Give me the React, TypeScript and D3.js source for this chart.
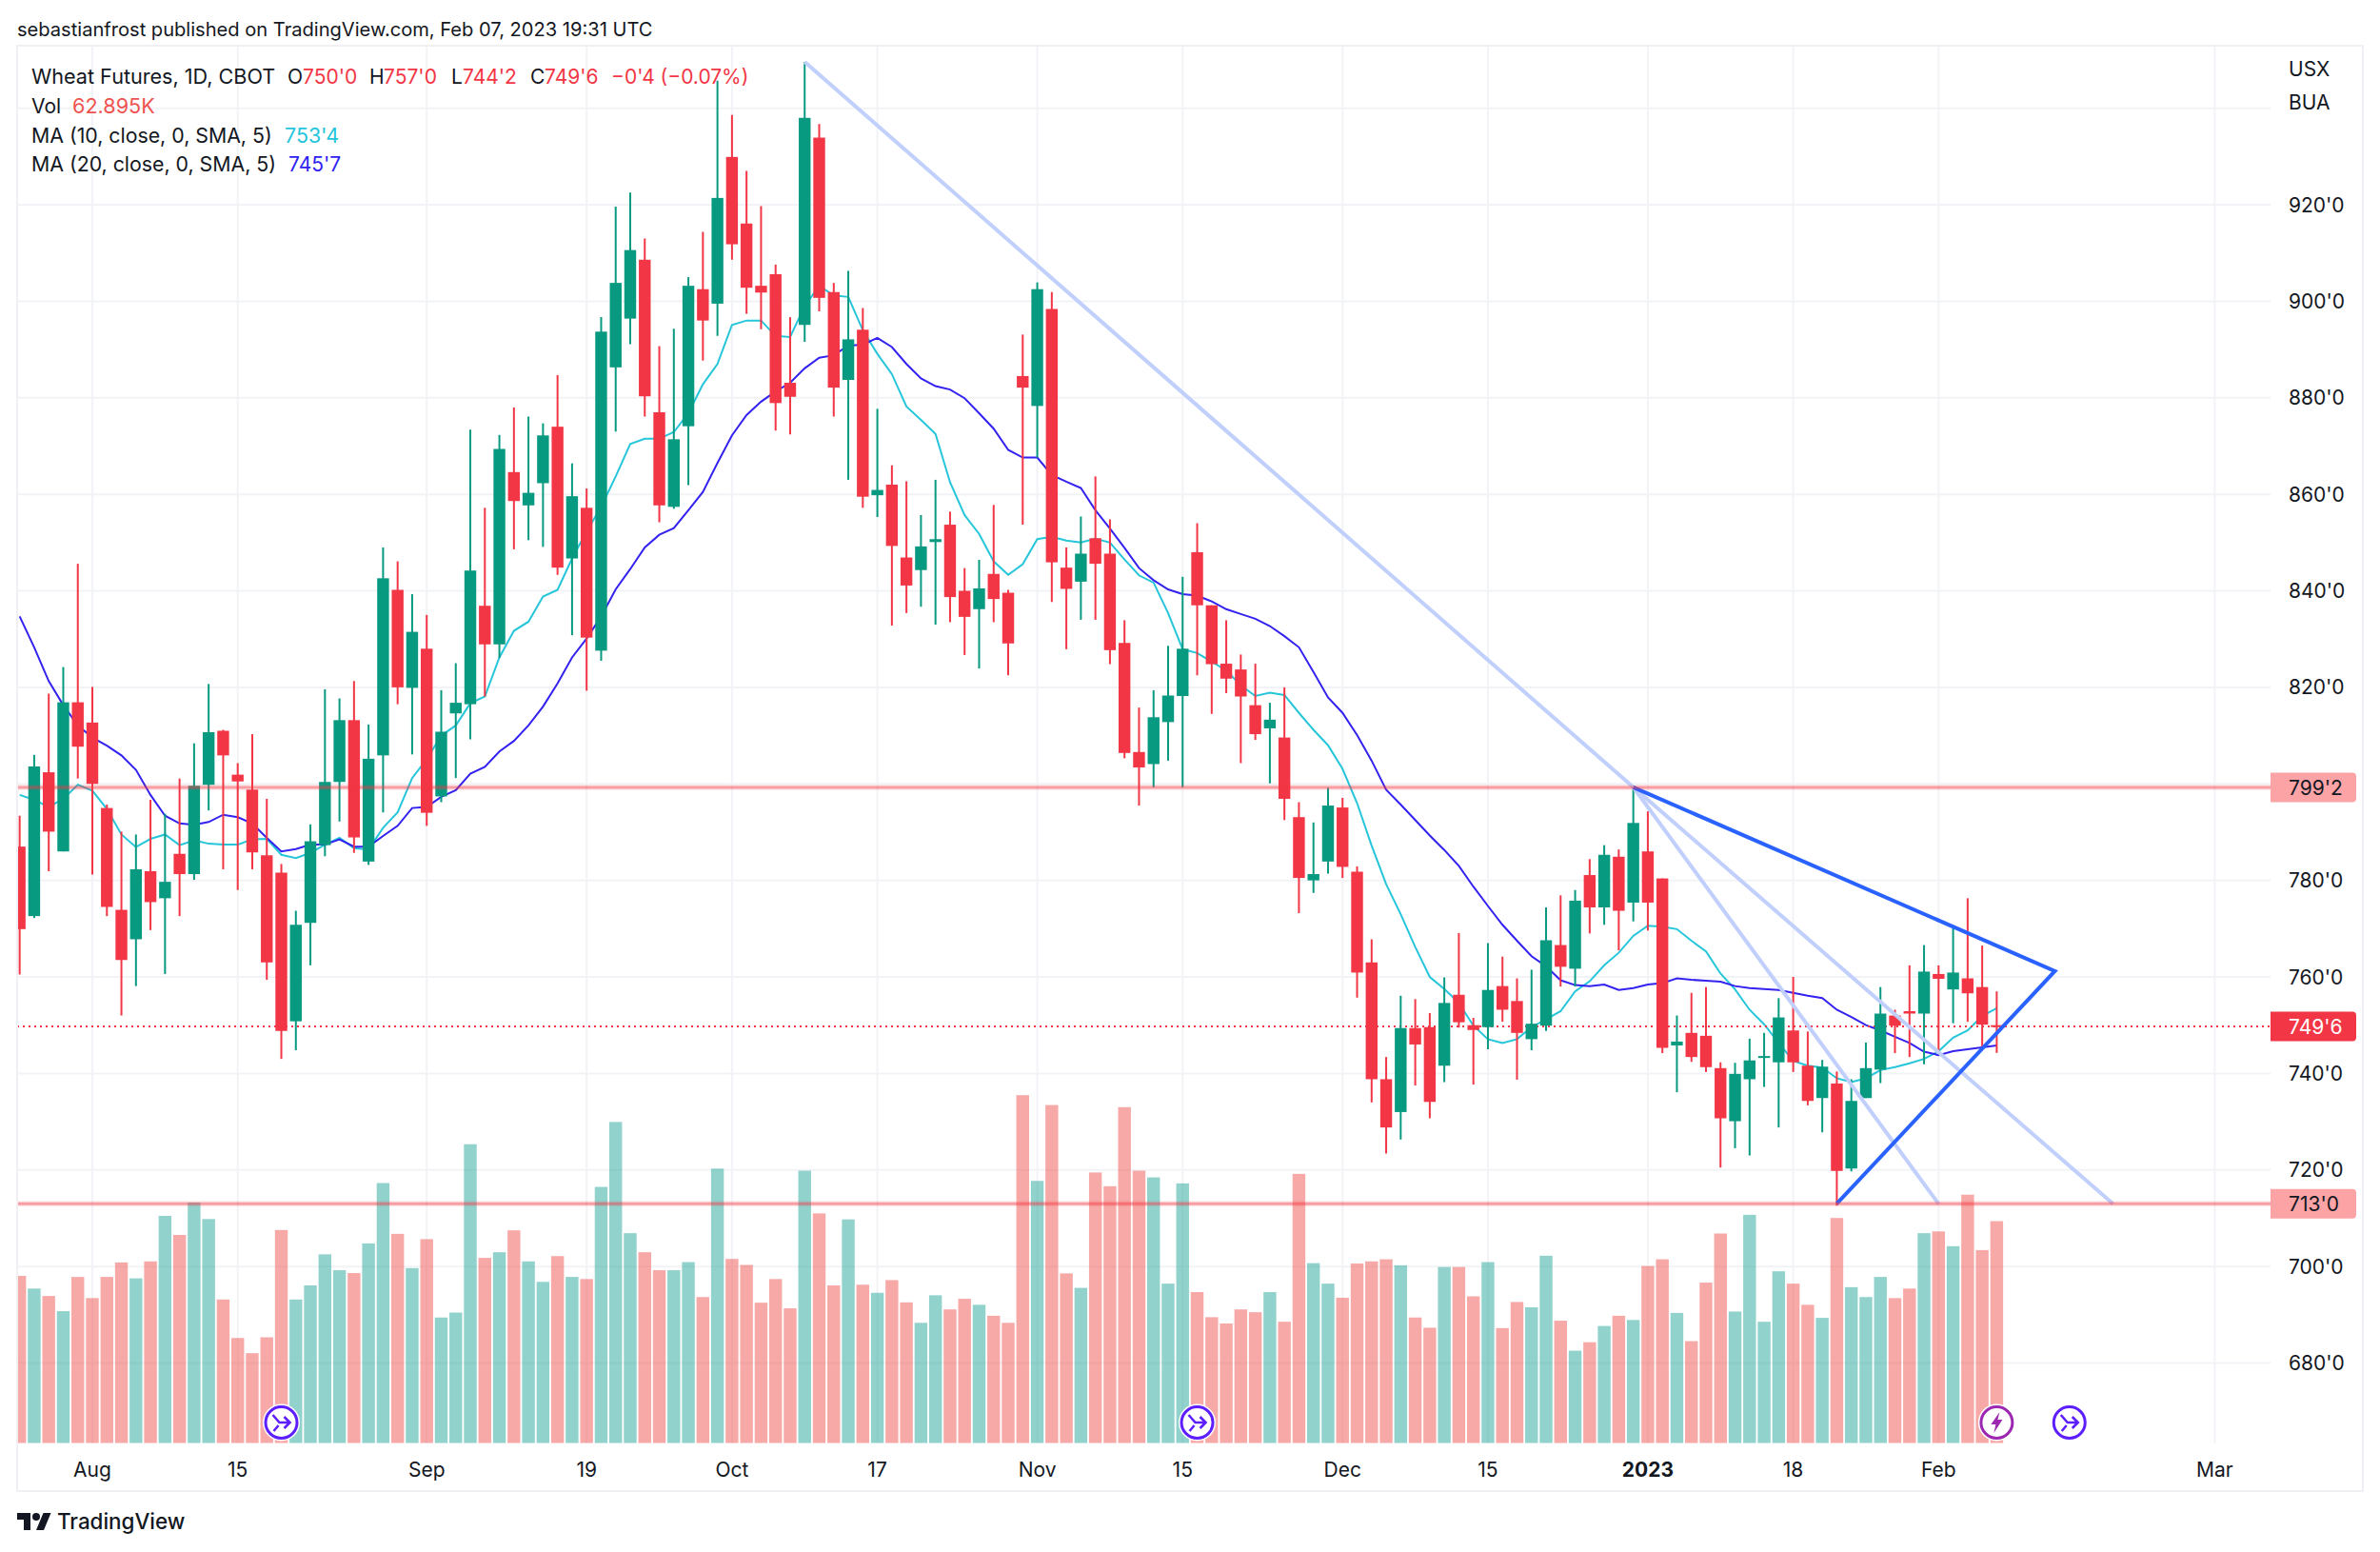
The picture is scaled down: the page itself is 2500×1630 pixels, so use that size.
import { useEffect, useRef } from "react";
import * as d3 from "d3";

// OHLC, one value per daily bar
const opens = [
    787, 772.6, 802.4, 786, 816.9, 812.7, 795, 773.9, 767.8, 781.9,
    776.3, 785.5, 781.3, 799.8, 811, 801.9, 798.8, 785.2, 781.6, 750.8,
    771.2, 787.3, 800.4, 813.2, 783.9, 805.9, 840.2, 819.9, 828, 797.4,
    814.6, 816.5, 836.9, 828.9, 864.6, 857.7, 862.3, 874, 846.7, 857.2,
    827.6, 886.3, 896.4, 908.6, 877, 857.4, 874.1, 902.5, 899.5, 929.9,
    916.1, 903.2, 905.6, 883.1, 895.1, 933.9, 901.9, 883.7, 894.1, 859.8,
    862, 846.9, 844.3, 850.1, 853.7, 840, 836.2, 843.5, 839.6, 884.5,
    878.3, 898.4, 844.8, 841.9, 850.9, 847.7, 829.2, 806.6, 804.1, 812.8,
    818.2, 848, 837, 824.9, 823.7, 816.3, 811.5, 809.6, 793.1, 780,
    783.9, 795.1, 781.8, 763, 738.8, 732, 749.4, 749.6, 741.6, 756.3,
    750, 749.6, 758.1, 755, 747.1, 749.9, 766.6, 761.7, 781.1, 774.4,
    784.9, 775.4, 786, 780.4, 745.8, 748.4, 747.8, 741.1, 730.1, 738.8,
    743.3, 742.3, 748.9, 741.6, 734.9, 737.9, 720.3, 734.9, 740.8, 752,
    752.9, 752.4, 760.6, 757.4, 759.7, 757.9, 750,
];
const highs = [
    793.4, 806, 818.7, 824.2, 845.6, 820.1, 795.7, 790.1, 789.5, 796.7,
    793.8, 801.1, 808.4, 820.7, 811.2, 804.3, 810.3, 796.9, 783.4, 773.7,
    791.6, 819.6, 817.7, 821.3, 812.3, 849, 846.1, 839.3, 835, 819.4,
    825, 873.4, 857.2, 872.3, 878, 876.1, 874.7, 884.7, 866.4, 861.2,
    896.7, 919.6, 922.5, 913, 890.7, 894.3, 905, 914.4, 945.7, 938.6,
    927, 919.7, 907.6, 896.7, 949.6, 936.7, 903.8, 906.3, 898.6, 877.7,
    866, 862.7, 855.7, 863, 856.4, 844.7, 846.4, 857.8, 840.2, 893.1,
    903.9, 901.9, 849, 855.4, 863.7, 854.8, 833.9, 815.8, 819.4, 828.6,
    842.9, 854, 837, 833.9, 826.8, 824.9, 816.8, 820, 796.2, 792,
    799.2, 797.1, 782.9, 767.8, 743.4, 756.1, 755.4, 752.5, 759.9, 769.1,
    751.5, 767, 764.2, 759.7, 761.5, 774.4, 776.9, 778, 784.4, 787.3,
    786.4, 799.4, 794.3, 780.4, 752, 756.7, 757.9, 742.3, 742.2, 747.2,
    748.4, 755.6, 760, 748.7, 742.8, 740.4, 738.8, 746.4, 757.9, 753.2,
    762.4, 766.6, 762.4, 770.5, 776.3, 766.5, 757,
];
const lows = [
    760.5, 772.2, 781.9, 786, 801.1, 781.2, 772.6, 752, 758.1, 769.7,
    760.6, 772.6, 780.1, 794.5, 782.3, 778, 782.3, 759.4, 743, 744.8,
    762.4, 785, 792.2, 785.7, 783.2, 794.1, 816.5, 806.1, 791.3, 796.2,
    801.2, 809.2, 818.1, 826.1, 848.6, 850.5, 849.1, 843.3, 830.8, 819.3,
    825.5, 873, 891.1, 876.1, 854.2, 857, 861.9, 887.7, 892.8, 908.6,
    897.4, 894.2, 873.2, 872.4, 891.6, 897.9, 876.1, 863, 857.2, 855.3,
    832.8, 835.4, 836.7, 833, 833.5, 826.7, 823.9, 833.5, 822.5, 853.7,
    867.6, 837.7, 827.9, 834, 834, 824.8, 805.3, 795.5, 799.3, 804.8,
    799.3, 822.5, 814.5, 818.8, 804.3, 809.1, 800.1, 792.5, 773.2, 777.4,
    781.4, 780.5, 755.7, 734, 723.4, 726.3, 737.5, 730.7, 738.2, 749.5,
    737.7, 745, 750.7, 738.7, 744.8, 748.8, 758, 758, 769, 770.8,
    765.5, 771.5, 769.6, 744.2, 736.1, 742.4, 740.3, 720.5, 724.5, 723,
    737.2, 728.8, 740.3, 733.4, 727.8, 712.6, 719.7, 734.9, 738, 744.2,
    743.4, 741.9, 744.6, 750.4, 750.7, 745.4, 744.25,
];
const closes = [
    769.9, 803.6, 790.1, 816.9, 807.7, 800, 774.5, 763.5, 782.3, 775.5,
    779.7, 781.3, 799.6, 810.7, 805.9, 800.5, 785.8, 763, 748.8, 770.8,
    788.1, 800.4, 813.2, 788.9, 805.2, 842.6, 820, 831.5, 794, 810.8,
    816.8, 844.2, 828.9, 869.4, 858.6, 860.3, 872.2, 844.8, 859.6, 830.3,
    893.7, 903.8, 910.6, 880.3, 857.7, 871.4, 903.2, 896, 921.4, 911.8,
    902.8, 901.8, 878.9, 880.2, 938, 900.7, 882.1, 892.1, 859.5, 860.9,
    849.3, 841.1, 849.2, 850.7, 838.7, 834.6, 840.5, 838.3, 829.1, 882.1,
    902.5, 845.9, 840.4, 847.7, 845.6, 827.7, 806.4, 803.4, 813.8, 818.3,
    828, 837, 824.8, 821.8, 818.1, 810.3, 813.3, 796.9, 780.5, 781.3,
    795.5, 782.8, 760.9, 738.8, 728.8, 749.4, 746, 734.1, 754.6, 750.6,
    749, 757.3, 753.2, 748.4, 750.3, 767.6, 762.1, 775.8, 774.4, 785.3,
    773.7, 791.9, 775.4, 745.3, 746.6, 743.4, 741.3, 730.7, 739.9, 742.7,
    743.6, 751.6, 742.3, 734.3, 741.4, 719.8, 734.3, 741.1, 752.4, 749.9,
    752.4, 761.1, 759.6, 760.9, 756.6, 750.1, 749.75,
];
// Volume in thousands
const volumes = [
    47.4, 43.8, 41.7, 37.4, 47.1, 41.1, 47.1, 51.2, 46.7, 51.5,
    64.4, 59, 68.2, 63.5, 40.7, 29.8, 25.5, 30, 60.4, 40.7,
    44.7, 53.5, 49, 48.2, 56.6, 73.7, 59.3, 49.6, 57.8, 35.6,
    37, 84.7, 52.5, 54.1, 60.3, 51.5, 45.7, 53, 47.1, 46.5,
    72.6, 91, 59.5, 54.1, 49, 49, 51.3, 41.4, 77.8, 52.2,
    50.5, 39.8, 46.5, 38.2, 77.2, 65.1, 44.7, 63.4, 44.9, 42.6,
    46.2, 39.9, 34.1, 41.9, 37.9, 40.9, 39.2, 36.1, 34.1, 98.6,
    74.3, 95.8, 48.1, 44, 76.7, 72.8, 95.2, 77.2, 75.3, 45.2,
    73.6, 42.8, 35.7, 33.9, 37.9, 37.1, 42.8, 34.4, 76.3, 51,
    45.2, 41.2, 50.9, 51.5, 52.1, 50.4, 35.6, 32.7, 49.9, 49.9,
    41.6, 51.3, 32.6, 40, 38.5, 53.1, 34.7, 26.2, 28.6, 33.2,
    36.1, 34.9, 50.2, 52.1, 36.9, 28.9, 45.5, 59.4, 37.3, 64.7,
    34.4, 48.7, 45.2, 39.2, 35.5, 63.8, 44.2, 41.4, 47.1, 41.1,
    43.8, 59.5, 60, 55.8, 70.4, 54.7, 62.9,
];
const ma10 = [
    797.7, 796.7, 795.2, 796.9, 799.8, 798.6, 794.8, 789.5, 786.9, 788.6,
    789.5, 787.3, 788.3, 787.6, 787.4, 787.4, 788.5, 788.6, 785.3, 784.6,
    785.7, 787.4, 788.8, 786.7, 786.4, 790.9, 794.1, 801.2, 805.1, 810,
    812.1, 816.7, 818.1, 826.2, 831.7, 833.6, 838.8, 840.2, 846.7, 852.3,
    857.4, 863.7, 870.4, 871.5, 871.5, 872.9, 876.8, 882.8, 887, 895.1,
    896, 896, 892.8, 892.6, 899, 903.2, 901.2, 900.9, 894, 889.1,
    884.9, 878.2, 875.4, 872.5, 862.5, 855.7, 851.8, 846.1, 843.3, 845.5,
    850.7, 851.2, 850.4, 850, 850.8, 850, 846.5, 843.2, 841.7, 835.4,
    827.9, 827.1, 825.3, 823.5, 820.4, 818.2, 818.9, 818.4, 814.7, 811.2,
    808, 803.1, 796, 787.2, 779.2, 773, 766.2, 760, 757.5, 754.6,
    749.9, 747.1, 746.3, 747.1, 749.6, 751.2, 752.9, 757, 759.1, 762.4,
    765, 768.5, 770.6, 770.4, 769.9, 767.5, 765.3, 760.7, 757.4, 753.2,
    750.2, 746.3, 742.6, 741.6, 741.2, 739, 738.2, 739, 740.7, 741.3,
    742.1, 743, 744.6, 747.4, 748.9, 751.9, 753.5,
];
const ma20 = [
    834.7, 828.3, 821.3, 816.3, 812.1, 809.6, 807.9, 805.9, 802.9, 797.7,
    793.4, 791.8, 791.5, 792.1, 793.6, 793.1, 791.8, 788.8, 786, 786.5,
    787.4, 787.4, 788.5, 787, 787, 789.2, 791.3, 795, 795.2, 797.3,
    798.7, 802.1, 803.5, 806.7, 808.9, 812.1, 816, 820.8, 826.2, 830.1,
    834.7, 840.3, 844.5, 849, 851.6, 853, 856.7, 860.5, 866.5, 872.2,
    876.4, 879.2, 881.3, 883.1, 886.1, 888.3, 888.8, 890.8, 891, 892.4,
    890.5, 887, 884, 882.4, 881.7, 879.9, 876.8, 873.6, 869.2, 867.6,
    867.6, 864, 862.6, 861.3, 856.7, 852.9, 848.9, 844.7, 842.2, 840.3,
    839.3, 839, 837.8, 836.2, 835.2, 834.2, 832.7, 830.6, 828.3, 823.2,
    817.9, 814.7, 810.1, 804.8, 798.8, 795.7, 792.5, 789.3, 786.3, 783,
    778.7, 774.7, 770.8, 767.5, 764.3, 762.2, 759.3, 758.3, 758.1, 758.4,
    757.3, 757.7, 758.4, 758.7, 759.7, 759.4, 759.2, 759, 758.1, 757.7,
    757.5, 757.3, 756.7, 756.1, 755.6, 753.2, 751.7, 750, 748.9, 747.6,
    746.3, 744.5, 743.8, 744.6, 745, 745.4, 745.8,
];

const priceTicks = [ 680, 700, 720, 740, 760, 780, 800, 820, 840, 860, 880, 900, 920 ];
const gridOnlyTicks = [ 940 ];
const timeTicks = [
    { bar: 5, label: "Aug" }, { bar: 15, label: "15" }, { bar: 28, label: "Sep" }, { bar: 39, label: "19" },
    { bar: 49, label: "Oct" }, { bar: 59, label: "17" }, { bar: 70, label: "Nov" }, { bar: 80, label: "15" },
    { bar: 91, label: "Dec" }, { bar: 101, label: "15" }, { bar: 112, label: "2023", bold: true },
    { bar: 122, label: "18" }, { bar: 132, label: "Feb" }, { bar: 151, label: "Mar" },
];

// [bar, price] anchors of the drawings
const fanStart = [ 54, 949.6 ];
const paleApex = [ 111, 799.3 ];
const paleEnds = [ [ 132, 713 ], [ 144, 713 ] ];
const wedge = [ [ 111, 799.3 ], [ 140, 761.2 ], [ 125, 713 ] ];
const levels = [ { price: 799.25, label: "799'2" }, { price: 713, label: "713'0" } ];
const lastPrice = { price: 749.75, label: "749'6" };
const mergeEvents = [ 18, 81, 141 ];
const boltEvents = [ 136 ];

const FONT = "Inter, 'Noto Sans', sans-serif";
const UP = "#089981";
const DOWN = "#F23645";
const TEXT = "#131722";

const legendRows = [
    { y: 80, parts: [
        { x: 33, t: "Wheat Futures, 1D, CBOT", c: TEXT, s: 21.6 },
        { x: 302, t: "O", c: TEXT }, { x: 318, t: "750'0", c: DOWN },
        { x: 388, t: "H", c: TEXT }, { x: 403, t: "757'0", c: DOWN },
        { x: 474, t: "L", c: TEXT }, { x: 486, t: "744'2", c: DOWN },
        { x: 557, t: "C", c: TEXT }, { x: 572, t: "749'6", c: DOWN },
        { x: 642, t: "−0'4 (−0.07%)", c: DOWN },
    ] },
    { y: 111, parts: [ { x: 33, t: "Vol", c: TEXT }, { x: 76, t: "62.895K", c: "#EF5350", s: 21.6 } ] },
    { y: 142, parts: [ { x: 33, t: "MA (10, close, 0, SMA, 5)", c: TEXT, s: 21.3 }, { x: 299, t: "753'4", c: "#22C5DB", s: 21.4 } ] },
    { y: 172.5, parts: [ { x: 33, t: "MA (20, close, 0, SMA, 5)", c: TEXT, s: 21.3 }, { x: 303, t: "745'7", c: "#2E22F2" } ] },
];

export default function App ()
{
    const svgRef = useRef<SVGSVGElement>( null );

    useEffect( () =>
    {
        if ( !svgRef.current ) return;
        const svg = d3.select( svgRef.current );
        svg.selectAll( "*" ).remove();

        const plotLeft = 18, plotRight = 2385, panelRight = 2482, panelTop = 48, panelBottom = 1566, baseline = 1515.7;

        const x = d3.scaleLinear().domain( [ 0, 136 ] ).range( [ 20.65, 2097.4 ] );
        const y = d3.scaleLinear().domain( [ 680, 920 ] ).range( [ 1431.5, 215 ] );
        const yVol = d3.scaleLinear().domain( [ 0, 100 ] ).range( [ baseline, baseline - 370.7 ] );

        const bars = d3.range( closes.length ).map( ( i ) => ( {
            i, o: opens[ i ], h: highs[ i ], l: lows[ i ], c: closes[ i ], v: volumes[ i ],
            up: closes[ i ] >= opens[ i ],
        } ) );

        svg.append( "rect" ).attr( "width", 2500 ).attr( "height", 1630 ).attr( "fill", "#fff" );

        svg.append( "defs" ).append( "clipPath" ).attr( "id", "plot" ).append( "rect" )
            .attr( "x", plotLeft ).attr( "y", panelTop ).attr( "width", plotRight - plotLeft ).attr( "height", baseline - panelTop );

        // Grid
        const grid = svg.append( "g" ).attr( "stroke", "#F2F3F6" ).attr( "stroke-width", 2 );
        grid.selectAll( "line.h" ).data( [ ...priceTicks, ...gridOnlyTicks ] ).join( "line" ).attr( "class", "h" )
            .attr( "x1", plotLeft ).attr( "x2", plotRight ).attr( "y1", ( d ) => y( d ) ).attr( "y2", ( d ) => y( d ) );
        grid.selectAll( "line.v" ).data( timeTicks ).join( "line" ).attr( "class", "v" )
            .attr( "x1", ( d ) => x( d.bar ) ).attr( "x2", ( d ) => x( d.bar ) ).attr( "y1", panelTop ).attr( "y2", baseline );

        const plot = svg.append( "g" ).attr( "clip-path", "url(#plot)" );

        // Volume
        plot.append( "g" ).selectAll( "rect" ).data( bars ).join( "rect" )
            .attr( "x", ( d ) => x( d.i ) - 6.7 ).attr( "width", 13.4 )
            .attr( "y", ( d ) => yVol( d.v ) ).attr( "height", ( d ) => baseline - yVol( d.v ) )
            .attr( "fill", ( d ) => d.up ? "#26A69A" : "#EF5350" ).attr( "fill-opacity", 0.5 );

        // Moving averages
        const line = d3.line<number>().x( ( _, i ) => x( i ) ).y( ( d ) => y( d ) );
        plot.append( "path" ).attr( "d", line( ma10 ) ).attr( "fill", "none" ).attr( "stroke", "#26C6DA" ).attr( "stroke-width", 2 );
        plot.append( "path" ).attr( "d", line( ma20 ) ).attr( "fill", "none" ).attr( "stroke", "#3322F0" ).attr( "stroke-width", 2 );

        // Last price
        plot.append( "line" ).attr( "x1", plotLeft ).attr( "x2", plotRight )
            .attr( "y1", y( lastPrice.price ) ).attr( "y2", y( lastPrice.price ) )
            .attr( "stroke", DOWN ).attr( "stroke-width", 2 ).attr( "stroke-dasharray", "2 4" );

        // Candles
        const candle = plot.append( "g" ).selectAll( "g" ).data( bars ).join( "g" );
        candle.append( "line" )
            .attr( "x1", ( d ) => x( d.i ) ).attr( "x2", ( d ) => x( d.i ) )
            .attr( "y1", ( d ) => y( d.h ) ).attr( "y2", ( d ) => y( d.l ) )
            .attr( "stroke", ( d ) => d.up ? UP : DOWN ).attr( "stroke-width", 2 );
        candle.append( "rect" )
            .attr( "x", ( d ) => x( d.i ) - 6.2 ).attr( "width", 12.4 )
            .attr( "y", ( d ) => y( Math.max( d.o, d.c ) ) )
            .attr( "height", ( d ) => Math.max( 2, y( Math.min( d.o, d.c ) ) - y( Math.max( d.o, d.c ) ) ) )
            .attr( "fill", ( d ) => d.up ? UP : DOWN );

        // Event markers
        const marker = svg.append( "g" );
        const ring = ( i: number, color: string ) =>
        {
            const g = marker.append( "g" ).attr( "transform", `translate(${ x( i ) },1494)` );
            g.append( "circle" ).attr( "r", 19.5 ).attr( "fill", "#fff" );
            g.append( "circle" ).attr( "r", 16.5 ).attr( "fill", "#fff" ).attr( "stroke", color ).attr( "stroke-width", 3 );
            return g;
        };
        mergeEvents.forEach( ( i ) =>
        {
            ring( i, "#5E1FFF" ).append( "path" )
                .attr( "d", "M-9,-8 L-2,0 L9,0 M-8,9 L-3,3 M3,-6 L9,0 L3,6" )
                .attr( "fill", "none" ).attr( "stroke", "#5E1FFF" ).attr( "stroke-width", 2.6 );
        } );
        boltEvents.forEach( ( i ) =>
        {
            ring( i, "#9C27B0" ).append( "path" )
                .attr( "d", "M3,-11 L-6,2 L-1,2 L-3,11 L6,-3 L1,-3 Z" ).attr( "fill", "#9C27B0" );
        } );

        // Drawings
        const pt = ( p: number[] ) => [ x( p[ 0 ] ), y( p[ 1 ] ) ] as [ number, number ];
        const drawings = svg.append( "g" ).attr( "fill", "none" );
        const seg = d3.line();
        drawings.append( "path" ).attr( "d", seg( [ pt( fanStart ), pt( paleApex ) ] ) )
            .attr( "stroke", "#C0CFFB" ).attr( "stroke-width", 4 );
        paleEnds.forEach( ( e ) =>
        {
            drawings.append( "path" ).attr( "d", seg( [ pt( paleApex ), pt( e ) ] ) )
                .attr( "stroke", "#C0CFFB" ).attr( "stroke-width", 4 );
        } );
        drawings.append( "path" ).attr( "d", seg( wedge.map( pt ) ) )
            .attr( "stroke", "#2962FF" ).attr( "stroke-width", 4 ).attr( "stroke-linejoin", "miter" );

        // Horizontal levels
        levels.forEach( ( l ) =>
        {
            svg.append( "line" ).attr( "x1", plotLeft ).attr( "x2", plotRight )
                .attr( "y1", y( l.price ) ).attr( "y2", y( l.price ) )
                .attr( "stroke", DOWN ).attr( "stroke-opacity", 0.12 ).attr( "stroke-width", 6 );
            svg.append( "line" ).attr( "x1", plotLeft ).attr( "x2", plotRight )
                .attr( "y1", y( l.price ) ).attr( "y2", y( l.price ) )
                .attr( "stroke", DOWN ).attr( "stroke-opacity", 0.42 ).attr( "stroke-width", 3 );
        } );

        // Panel border
        svg.append( "rect" ).attr( "x", plotLeft ).attr( "y", panelTop )
            .attr( "width", panelRight - plotLeft ).attr( "height", panelBottom - panelTop )
            .attr( "fill", "none" ).attr( "stroke", "#EFEFF4" ).attr( "stroke-width", 2 );

        const label = ( g: d3.Selection<any, any, any, any>, tx: number, ty: number, t: string, color: string, size = 21, weight = 400 ) =>
            g.append( "text" ).attr( "x", tx ).attr( "y", ty ).attr( "dy", "0.36em" )
                .attr( "fill", color ).style( "font-family", FONT ).style( "font-size", `${ size }px` )
                .style( "font-weight", weight ).text( t );

        const texts = svg.append( "g" );

        // Price axis
        priceTicks.forEach( ( p ) => label( texts, 2404, y( p ), `${ p }'0`, TEXT ) );
        label( texts, 2404, 72, "USX", TEXT );
        label( texts, 2404, 107, "BUA", TEXT );

        const box = ( price: number, fill: string, t: string, color: string ) =>
        {
            texts.append( "path" ).attr( "fill", fill )
                .attr( "d", `M2385,${ y( price ) - 15.5 }h86a4,4 0 0 1 4,4v23a4,4 0 0 1 -4,4h-86z` );
            label( texts, 2404, y( price ), t, color );
        };
        levels.forEach( ( l ) => box( l.price, "#FCA3A6", l.label, TEXT ) );
        box( lastPrice.price, DOWN, lastPrice.label, "#fff" );

        // Time axis
        timeTicks.forEach( ( d ) =>
        {
            label( texts, x( d.bar ), 1543, d.label, TEXT, 21, d.bold ? 700 : 400 ).attr( "text-anchor", "middle" );
        } );

        // Title and legend
        label( texts, 18, 31, "sebastianfrost published on TradingView.com, Feb 07, 2023 19:31 UTC", TEXT, 20.1 );
        legendRows.forEach( ( row ) =>
        {
            row.parts.forEach( ( p: { x: number; t: string; c: string; s?: number } ) => label( texts, p.x, row.y, p.t, p.c, p.s ?? 21 ) );
        } );

        // Logo
        const logo = svg.append( "g" ).attr( "transform", "translate(18,1582)" ).attr( "fill", TEXT );
        logo.append( "path" ).attr( "d", "M14 25H7V14H0V7h14v18zM28 25h-8l7.5-18h8L28 25z" );
        logo.append( "circle" ).attr( "cx", 20 ).attr( "cy", 11 ).attr( "r", 4 );
        label( texts, 60, 1598, "TradingView", TEXT, 22.4, 500 );
    }, [] );

    return <svg ref={ svgRef } width={ 2500 } height={ 1630 } style={ { position: "absolute", left: 0, top: 0, display: "block" } } />;
}
